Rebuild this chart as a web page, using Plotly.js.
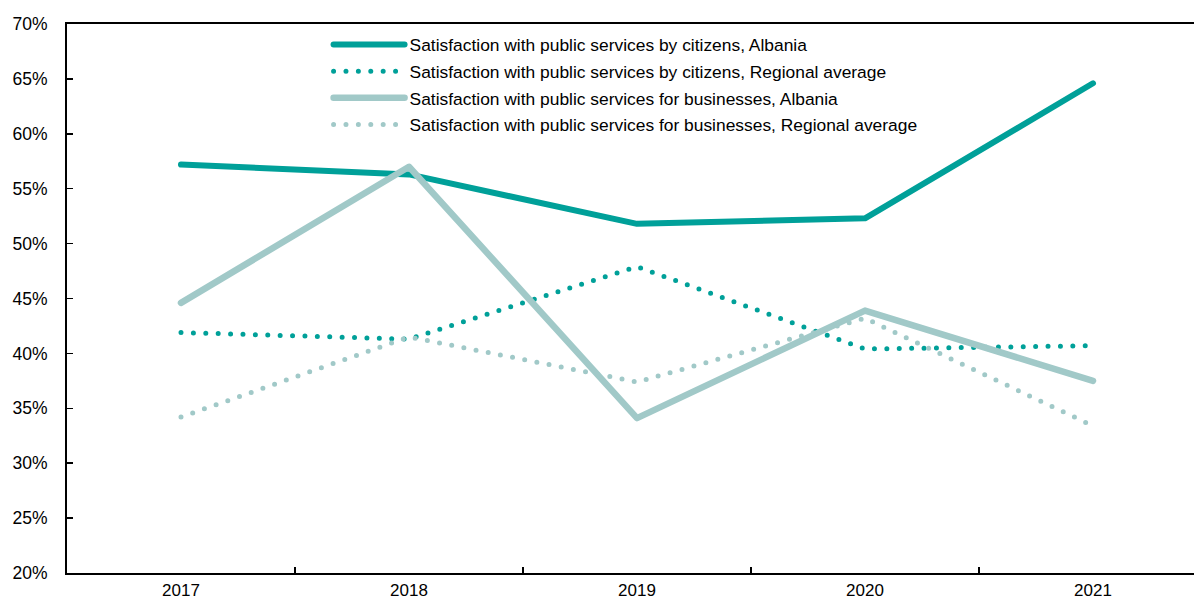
<!DOCTYPE html>
<html>
<head>
<meta charset="utf-8">
<script src="https://cdn.plot.ly/plotly-3.0.1.min.js"></script>
<style>
  html, body { margin: 0; padding: 0; background: #fff; }
  #chart { width: 1194px; height: 599px; }
  path.js-line { stroke-linecap: round !important; stroke-linejoin: round !important; }
</style>
</head>
<body>
<div id="chart"></div>
<script>
const years = ['2017', '2018', '2019', '2020', '2021'];
const citizensAlbania = [0.572, 0.563, 0.518, 0.523, 0.646];
const citizensRegional = [0.419, 0.413, 0.479, 0.404, 0.407];
const businessAlbania = [0.446, 0.570, 0.341, 0.439, 0.375];
const businessRegional = [0.342, 0.415, 0.374, 0.432, 0.334];
const seriesNames = [
  'Satisfaction with public services by citizens, Albania',
  'Satisfaction with public services by citizens, Regional average',
  'Satisfaction with public services for businesses, Albania',
  'Satisfaction with public services for businesses, Regional average'
];
const yTicks = [0.20, 0.25, 0.30, 0.35, 0.40, 0.45, 0.50, 0.55, 0.60, 0.65, 0.70];

const TEAL = '#00A099';
const LIGHT = '#A1C9C8';
const DOTS = '0px,12.4px';

const traces = [
  { x: years, y: citizensAlbania, name: seriesNames[0], legendgroup: 'g1', mode: 'lines', line: { color: TEAL, width: 6 } },
  { x: years, y: citizensRegional, name: seriesNames[1], legendgroup: 'g2', mode: 'lines', line: { color: TEAL, width: 5, dash: DOTS } },
  { x: years, y: businessAlbania, name: seriesNames[2], legendgroup: 'g3', mode: 'lines', line: { color: LIGHT, width: 6.5 } },
  { x: years, y: businessRegional, name: seriesNames[3], legendgroup: 'g4', mode: 'lines', line: { color: LIGHT, width: 5, dash: DOTS } }
];

const FONT = '"Liberation Sans", Arial, Helvetica, sans-serif';

const layout = {
  width: 1194,
  height: 599,
  margin: { l: 67, r: 0, t: 24, b: 26, pad: 0 },
  paper_bgcolor: '#ffffff',
  plot_bgcolor: '#ffffff',
  font: { family: FONT, size: 17, color: '#000000' },
  showlegend: true,
  legend: {
    x: 0.2321, xanchor: 'left',
    y: 0.995, yanchor: 'top',
    bgcolor: 'rgba(0,0,0,0)',
    borderwidth: 0,
    itemwidth: 71,
    traceorder: 'grouped',
    tracegroupgap: 1,
    font: { family: FONT, size: 17.4, color: '#000000' }
  },
  xaxis: {
    type: 'category',
    range: [-0.5, 4.443],
    showgrid: false,
    zeroline: false,
    showline: true,
    linecolor: '#000000',
    linewidth: 2,
    mirror: true,
    ticks: 'inside',
    tickson: 'boundaries',
    ticklen: 6,
    tickwidth: 1.5,
    tickcolor: '#000000',
    tickfont: { family: FONT, size: 17, color: '#000000' },
    ticklabelstandoff: 1
  },
  yaxis: {
    range: [0.2, 0.7],
    tickvals: yTicks,
    tickformat: '.0%',
    showgrid: false,
    zeroline: false,
    showline: true,
    linecolor: '#000000',
    linewidth: 2,
    ticks: 'inside',
    ticklen: 6,
    tickwidth: 1.5,
    tickcolor: '#000000',
    tickfont: { family: FONT, size: 17.5, color: '#000000' },
    ticklabelstandoff: 14
  }
};

Plotly.newPlot('chart', traces, layout, { staticPlot: true, displayModeBar: false }).then(function (gd) {
  gd.querySelectorAll('.legend .traces path.js-line').forEach(function (p) {
    p.setAttribute('d', 'M5,0h71');
  });
});
</script>
</body>
</html>
